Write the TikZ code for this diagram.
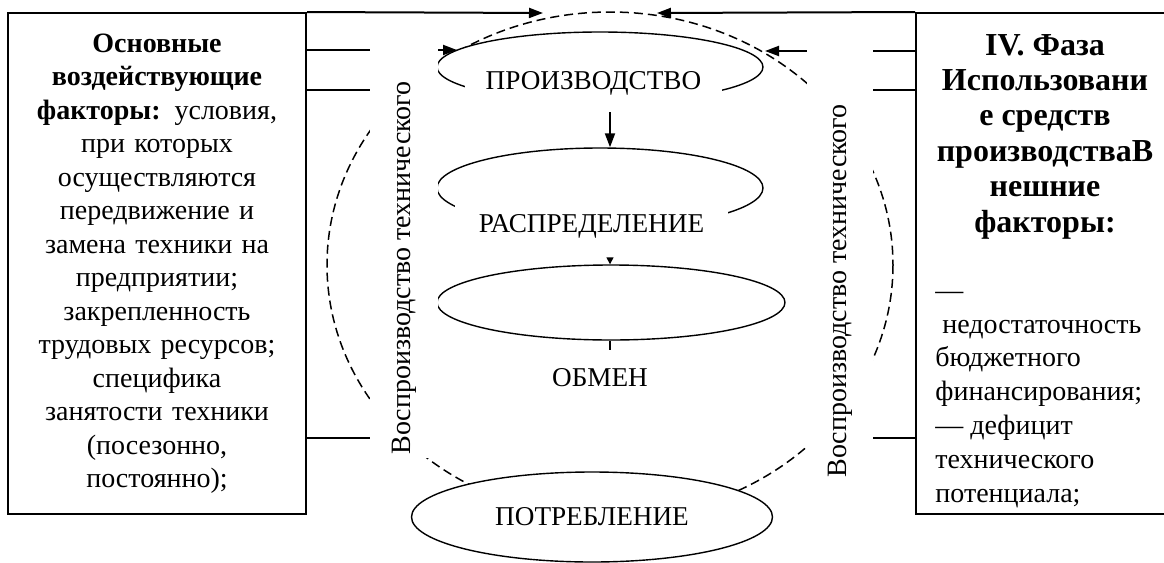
\documentclass[tikz,border=0pt]{standalone}
\usepackage{fontspec}
\setmainfont{Liberation Serif}
\usetikzlibrary{arrows.meta,shapes.geometric}

\tikzset{
  factbox/.style={draw, line width=1pt, minimum height=250.5pt, inner sep=0pt},
  vtext/.style={rotate=90, fill=white, inner sep=0pt, font=\fontsize{14}{16}\selectfont},
  oval/.style={draw, ellipse, line width=0.7pt, fill=white, inner sep=0pt},
  phase/.style={fill=white, inner sep=0pt, font=\fontsize{13.6}{16}\selectfont},
  link/.style={line width=1pt},
  arr/.style={link, -{Triangle[length=7pt,width=5pt]}},
}

\begin{document}
\begin{tikzpicture}[x=0.5pt, y=-0.5pt]
		\useasboundingbox (0,0) rectangle (1164,563);
		
		%% dashed cycle of reproduction
		\draw[dash pattern=on 4.5pt off 2.5pt, line width=0.75pt]
		(610,265) ellipse (283 and 253);
		
		%% factor boxes
		\node[factbox, minimum width=149pt, text width=145pt, align=center,
		      font=\fontsize{14}{16.75}\selectfont] (lbox) at (157,263.5)
		{\textbf{Основные}\\ \textbf{воздействующие}\\ \textbf{факторы:} условия,\\
		 при которых\\ осуществляются\\ передвижение и\\ замена техники на\\
		 предприятии;\\ закрепленность\\ трудовых ресурсов;\\ специфика\\
		 занятости техники\\ (посезонно,\\ постоянно);};
		\node[factbox, minimum width=129pt] (rbox) at (1045,263.5) {};
		%% base of a multi-line node = its last line
		\node[anchor=base, align=center, inner sep=0pt,
		      font=\fontsize{16}{17.7}\selectfont\bfseries] (rhead) at (1045,232)
		{IV. Фаза\\ Использовани\\ е средств\\ производстваВ\\ нешние\\ факторы:};
		\node[anchor=base west, align=left, inner sep=0pt,
		      font=\fontsize{14}{16.9}\selectfont] (rlist) at (935,502)
		{—\\ \ недостаточность\\ бюджетного\\ финансирования;\\ — дефицит\\
		 технического\\ потенциала;};
		
		%% phases
		\node[oval, minimum width=163pt, minimum height=35pt]   (prod)  at (600,67) {};
		\node[oval, minimum width=163pt, minimum height=40pt]   (distr) at (600,188) {};
		\node[oval, minimum width=174pt, minimum height=37.5pt] (exch)  at (611,302.5) {};
		\node[oval, minimum width=180.5pt, minimum height=45pt,
		      font=\fontsize{13.6}{16}\selectfont] (cons) at (592,517) {ПОТРЕБЛЕНИЕ};
		
		%% links from the boxes
		\coordinate (axis) at (610,0);
		\coordinate (ltop) at (543,13);
		\coordinate (rtop) at (657,13);
		\coordinate (lin)  at (457,50);
		\coordinate (rin)  at (765,51);
		\draw[arr] (lbox.north east) -- (ltop);
		\draw[arr] (rbox.north west) -- (rtop);
		\draw[arr] (lbox.east |- lin) -- (lin);
		\draw[arr] (rbox.west |- rin) -- (rin);
		
		%% side labels
		\node[vtext, minimum width=208pt, minimum height=34pt] (lvert) at (404,250)
		{Воспроизводство технического\hspace*{18pt}};
		\node[vtext, minimum width=249pt, minimum height=33pt] (rvert) at (840,291)
		{Воспроизводство технического};
		\draw[link] (lbox.east |- 0,90)  -- (lvert.north |- 0,90);
		\draw[link] (lbox.east |- 0,438) -- (lvert.north |- 0,438);
		\draw[link] (rbox.west |- 0,90)  -- (rvert.south |- 0,90);
		\draw[link] (rbox.west |- 0,438) -- (rvert.south |- 0,438);
		
		%% phase names
		\node[phase, minimum width=128.5pt, minimum height=28.5pt] (prodtxt)  at (593.5,83.5) {ПРОИЗВОДСТВО};
		\node[phase, minimum width=136.5pt, minimum height=32pt]   (distrtxt) at (591.5,226) {РАСПРЕДЕЛЕНИЕ};
		\node[phase, minimum width=60pt,    minimum height=28pt]   (exchtxt)  at (600,378) {ОБМЕН};
		
		%% flow between phases
		\draw[arr] (prodtxt.south -| axis) -- (distr.north -| axis);
		\draw[link, line width=0.7pt, -{Triangle[length=3.5pt,width=3.5pt]}]
		(distrtxt.south -| axis) -- (exch.north -| axis);
		\draw[link, line width=0.7pt] (exch.south -| axis) -- (exchtxt.north -| axis);
		
\end{tikzpicture}
\end{document}
